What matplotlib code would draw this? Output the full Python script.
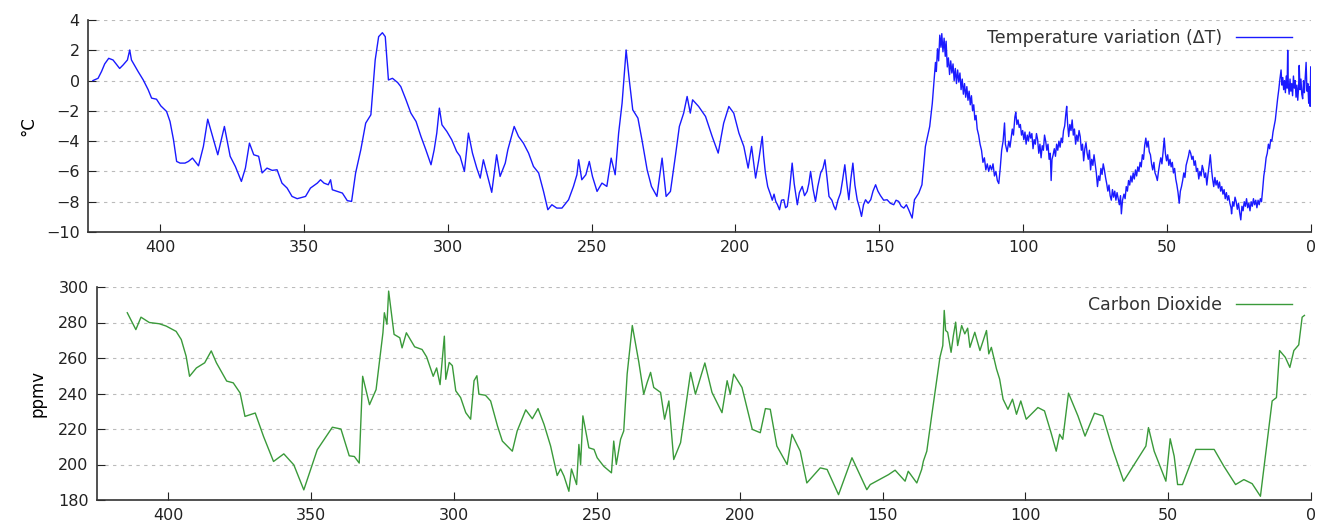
import matplotlib
matplotlib.use('Agg')
import matplotlib.pyplot as plt

plt.rcParams['font.family'] = ['DejaVu Sans']

# temperature variation (deg C), (thousands of years before present, value)
temp_points_old = [
    (423.3, 0.0), (421.5, 0.15), (420.3, 0.6), (419.2, 1.1), (417.8, 1.47), (416.3, 1.36),
    (414.0, 0.8), (412.8, 1.03), (411.3, 1.36), (410.5, 2.02), (409.9, 1.36), (407.6, 0.6),
    (405.8, 0.04), (404.1, -0.6), (402.9, -1.16), (401.2, -1.23), (399.7, -1.67), (397.7, -2.04),
    (396.5, -2.7), (395.3, -3.9), (394.2, -5.34), (393.0, -5.45), (391.3, -5.45), (390.1, -5.34),
    (388.7, -5.12), (386.6, -5.63), (384.9, -4.35), (383.4, -2.55), (381.7, -3.69), (379.9, -4.9),
    (377.6, -3.03), (375.6, -5.0), (373.8, -5.67), (371.7, -6.66), (370.3, -5.78), (368.9, -4.13),
    (367.4, -4.9), (365.7, -5.0), (364.5, -6.1), (362.8, -5.78), (361.0, -5.93), (359.3, -5.89),
    (357.6, -6.77), (355.8, -7.1), (354.1, -7.65), (352.3, -7.8), (349.4, -7.65), (347.7, -7.1),
    (345.3, -6.77), (344.2, -6.55), (343.0, -6.77), (341.5, -6.88), (340.7, -6.55), (340.1, -7.21),
    (338.4, -7.32), (336.6, -7.43), (334.9, -7.93), (333.4, -7.98), (332.0, -6.1), (330.2, -4.57),
    (328.5, -2.81), (326.7, -2.26), (325.2, 1.36), (324.0, 2.9), (322.7, 3.16), (321.7, 2.9),
    (320.6, 0.04), (319.2, 0.15), (317.4, -0.13), (316.3, -0.4), (314.5, -1.27), (312.8, -2.15),
    (311.0, -2.7), (309.3, -3.69), (307.6, -4.57), (305.8, -5.56), (304.7, -4.57), (303.8, -3.47),
    (302.9, -1.82), (302.0, -2.92), (300.3, -3.36), (298.6, -3.91), (296.9, -4.68), (295.7, -5.0),
    (294.2, -6.0), (292.8, -3.47), (291.4, -4.79), (289.9, -5.78), (288.7, -6.44), (287.6, -5.23),
    (285.8, -6.55), (284.7, -7.38), (283.0, -4.9), (281.8, -6.33), (280.0, -5.45), (279.1, -4.57),
    (276.9, -3.03), (275.4, -3.69), (273.7, -4.13), (271.9, -4.79), (270.2, -5.67), (268.4, -6.1),
    (266.7, -7.32), (265.2, -8.53), (263.8, -8.2), (262.1, -8.42), (260.3, -8.42), (258.0, -7.87),
    (256.3, -6.99), (255.1, -6.22), (254.5, -5.23), (253.4, -6.55), (252.0, -6.22), (250.8, -5.34),
    (249.7, -6.33), (248.1, -7.32), (246.4, -6.77), (244.7, -6.99), (243.2, -5.12), (241.8, -6.22),
    (240.6, -3.47), (239.4, -1.49), (238.0, 2.02), (236.9, 0.04), (235.7, -1.93), (233.9, -2.48),
    (232.5, -3.91), (230.7, -5.89), (229.2, -6.99), (227.3, -7.65), (225.5, -5.12), (224.1, -7.65),
    (222.6, -7.32), (220.9, -5.01), (219.5, -3.03), (218.0, -2.15), (216.8, -1.05), (215.7, -2.15),
    (214.9, -1.27), (212.8, -1.71), (210.4, -2.37), (208.1, -3.69), (206.0, -4.79), (204.1, -2.81),
    (202.3, -1.71), (200.6, -2.15), (198.8, -3.47), (197.1, -4.35), (195.6, -5.78), (194.4, -4.35),
    (193.0, -6.44), (191.9, -5.23),
]
temp_points_mid = [
    (190.7, -3.69), (190.2, -5.0), (189.6, -6.1), (188.8, -7.0), (187.8, -7.54), (187.2, -7.9),
    (186.6, -7.5), (186.0, -7.98), (185.4, -8.2), (184.7, -8.53), (184.0, -7.9), (183.2, -7.87),
    (182.6, -8.4), (182.0, -8.31), (181.2, -7.2), (180.3, -5.45), (179.6, -6.8), (178.5, -8.2),
    (177.8, -7.4), (176.8, -6.99), (176.0, -7.6), (175.1, -7.32), (174.5, -6.8), (173.9, -6.0),
    (173.0, -7.2), (172.2, -7.98), (171.4, -7.0), (170.4, -6.1), (169.6, -5.8), (168.9, -5.23),
    (168.2, -6.4), (167.5, -7.65), (166.5, -7.9), (165.8, -8.3), (165.2, -8.53), (164.4, -7.9),
    (163.5, -7.43), (162.8, -6.6), (162.0, -5.56), (161.3, -6.8), (160.6, -7.87), (159.9, -6.5),
    (159.2, -5.45), (158.5, -6.9), (157.7, -7.87), (156.9, -8.4), (156.2, -8.97), (155.5, -8.2),
    (154.8, -7.87), (153.9, -8.1), (153.0, -7.87), (152.2, -7.3), (151.3, -6.88), (150.5, -7.3),
    (149.6, -7.6), (148.5, -7.9), (147.3, -7.87), (146.2, -8.1), (145.0, -8.2), (144.2, -7.9),
    (143.3, -7.98), (142.4, -8.3), (141.5, -8.42), (140.6, -8.2), (139.8, -8.53), (139.2, -8.8),
    (138.6, -9.08), (137.8, -7.87), (136.3, -7.43), (135.2, -6.88), (134.0, -4.35), (132.5, -3.03),
    (131.6, -1.5),
]
temp_points_recent = [
    (131.0, 0.0), (130.5, 1.2), (130.2, 0.6), (129.8, 2.1), (129.4, 1.3), (129.0, 3.0),
    (128.6, 2.2), (128.3, 3.1), (127.9, 1.9), (127.5, 2.8), (127.1, 1.6), (126.8, 2.6),
    (126.4, 0.9), (126.0, 1.5), (125.6, 0.4), (125.2, 1.3), (124.8, 0.5), (124.4, 1.1),
    (124.0, 0.0), (123.6, 0.8), (123.2, -0.2), (122.8, 0.7), (122.4, -0.1), (122.0, 0.5),
    (121.6, -0.6), (121.2, 0.1), (120.8, -0.9), (120.4, -0.2), (120.0, -1.1), (119.6, -0.4),
    (119.2, -1.3), (118.8, -0.7), (118.4, -1.6), (118.0, -1.0), (117.6, -2.0), (117.2, -1.6),
    (116.8, -2.6), (116.4, -2.3), (116.0, -3.2), (115.5, -3.6), (115.0, -4.2), (114.5, -4.6),
    (114.0, -5.4), (113.5, -5.1), (113.0, -5.9), (112.5, -5.5), (112.0, -6.0), (111.5, -5.6),
    (111.0, -5.9), (110.5, -5.5), (110.0, -6.3), (109.5, -6.0), (109.0, -6.6), (108.5, -6.8),
    (108.0, -5.8), (107.5, -4.6), (107.0, -4.0), (106.5, -2.8), (106.2, -4.2), (105.6, -4.7),
    (105.0, -4.0), (104.6, -4.4), (104.2, -3.8), (103.8, -3.2), (103.4, -3.6), (102.9, -2.4),
    (102.6, -2.1), (102.2, -2.9), (101.8, -2.6), (101.4, -3.1), (101.0, -2.9), (100.6, -3.6),
    (100.2, -3.3), (99.8, -3.9), (99.4, -3.4), (99.0, -4.2), (98.6, -3.6), (98.2, -4.0),
    (97.8, -3.4), (97.4, -3.8), (97.0, -3.5), (96.6, -4.5), (96.2, -3.9), (95.8, -4.2),
    (95.4, -3.5), (95.0, -3.9), (94.6, -4.8), (94.2, -4.2), (93.8, -5.1), (93.4, -4.3),
    (93.0, -4.6), (92.6, -3.6), (92.2, -4.0), (91.8, -4.6), (91.4, -4.2), (91.0, -5.2),
    (90.6, -4.8), (90.3, -6.6), (90.0, -5.2), (89.6, -4.9), (89.2, -4.5), (88.8, -5.0),
    (88.4, -4.2), (88.0, -4.6), (87.6, -4.0), (87.2, -4.4), (86.8, -3.8), (86.4, -4.1),
    (86.0, -3.3), (85.6, -3.0), (85.2, -2.2), (84.9, -1.7), (84.6, -2.8), (84.2, -3.7),
    (83.8, -2.9), (83.4, -3.3), (83.0, -2.6), (82.6, -3.6), (82.2, -3.2), (81.8, -4.2),
    (81.4, -3.6), (81.0, -4.0), (80.6, -3.3), (80.2, -3.7), (79.8, -4.6), (79.4, -4.2),
    (79.0, -5.3), (78.6, -4.5), (78.2, -4.1), (77.8, -4.8), (77.4, -5.2), (77.0, -4.6),
    (76.6, -5.9), (76.2, -5.2), (75.8, -5.6), (75.4, -4.9), (75.0, -5.5), (74.6, -6.1),
    (74.2, -7.0), (73.8, -6.3), (73.4, -6.6), (73.0, -5.8), (72.6, -6.2), (72.2, -5.5),
    (71.8, -5.9), (71.4, -6.4), (71.0, -6.8), (70.6, -7.3), (70.2, -6.9), (69.8, -7.6),
    (69.4, -7.9), (69.0, -7.2), (68.6, -7.7), (68.2, -7.3), (67.8, -7.9), (67.4, -7.4),
    (67.0, -7.8), (66.6, -8.2), (66.2, -7.6), (65.9, -8.8), (65.5, -7.9), (65.0, -7.5),
    (64.6, -7.8), (64.2, -7.0), (63.8, -7.3), (63.4, -6.6), (63.0, -6.9), (62.6, -6.3),
    (62.2, -6.7), (61.8, -6.1), (61.4, -6.5), (61.0, -5.9), (60.6, -6.3), (60.2, -5.7),
    (59.8, -6.0), (59.4, -5.4), (59.0, -5.7), (58.6, -4.9), (58.2, -5.2), (57.8, -4.3),
    (57.4, -3.8), (57.0, -4.4), (56.6, -4.0), (56.2, -4.7), (55.8, -4.9), (55.4, -5.5),
    (55.0, -5.9), (54.6, -5.4), (54.2, -6.1), (53.8, -6.3), (53.4, -6.6), (53.0, -6.0),
    (52.6, -5.5), (52.2, -5.1), (51.8, -5.5), (51.4, -4.7), (51.0, -3.8), (50.6, -4.8),
    (50.2, -5.3), (49.8, -4.9), (49.4, -5.6), (49.0, -5.2), (48.6, -5.7), (48.2, -5.4),
    (47.8, -6.1), (47.4, -5.8), (47.0, -6.5), (46.6, -6.9), (46.2, -7.4), (45.8, -8.1),
    (45.4, -7.3), (45.0, -7.0), (44.6, -6.6), (44.2, -6.1), (43.8, -6.4), (43.4, -5.6),
    (43.0, -5.3), (42.6, -5.0), (42.2, -4.6), (41.8, -4.8), (41.4, -5.2), (41.0, -5.0),
    (40.6, -5.6), (40.2, -5.3), (39.8, -6.0), (39.4, -5.8), (39.0, -6.5), (38.6, -6.0),
    (38.2, -6.3), (37.8, -5.6), (37.4, -5.9), (37.0, -6.4), (36.6, -6.1), (36.2, -6.9),
    (35.8, -6.2), (35.4, -5.6), (35.0, -4.9), (34.6, -5.8), (34.2, -6.5), (33.8, -7.0),
    (33.4, -6.4), (33.0, -6.9), (32.6, -6.6), (32.2, -7.1), (31.8, -6.7), (31.4, -7.3),
    (31.0, -7.0), (30.6, -7.5), (30.2, -7.2), (29.8, -7.8), (29.4, -7.4), (29.0, -7.9),
    (28.6, -7.6), (28.2, -8.1), (27.8, -8.4), (27.6, -8.8), (27.2, -8.0), (26.8, -8.3),
    (26.4, -7.7), (26.0, -8.0), (25.6, -8.5), (25.2, -8.1), (24.8, -8.7), (24.4, -9.2),
    (24.0, -8.3), (23.6, -8.6), (23.2, -8.0), (22.8, -8.3), (22.4, -7.8), (22.0, -8.4),
    (21.6, -8.1), (21.2, -8.6), (20.8, -8.0), (20.4, -8.3), (20.0, -7.8), (19.6, -8.2),
    (19.2, -7.9), (18.8, -8.4), (18.4, -7.9), (18.0, -8.2), (17.6, -7.8), (17.2, -8.0),
    (16.8, -7.2), (16.4, -6.3), (16.0, -5.8), (15.6, -5.1), (15.2, -4.8), (14.8, -4.2),
    (14.4, -4.5), (14.0, -3.9), (13.6, -4.0), (13.2, -3.4), (12.8, -3.0), (12.4, -2.6),
    (12.0, -1.9), (11.6, -1.2), (11.2, -0.6), (10.8, 0.1), (10.4, 0.7), (10.1, -0.3),
    (9.8, 0.2), (9.5, -0.6), (9.2, 0.0), (8.9, -0.8), (8.6, 0.3), (8.3, -0.5),
    (8.1, 2.0), (7.9, -0.2), (7.6, -0.9), (7.3, 0.1), (7.0, -0.7), (6.7, -0.2),
    (6.4, -1.0), (6.1, 0.3), (5.8, -0.5), (5.5, 0.0), (5.2, -1.1), (4.9, -0.3),
    (4.6, -1.3), (4.3, -0.4), (4.1, 1.0), (3.8, -0.6), (3.5, 0.1), (3.2, -0.9),
    (2.9, -1.2), (2.6, 0.0), (2.3, -0.8), (2.0, 0.2), (1.7, 1.2), (1.4, -0.7),
    (1.1, -0.2), (0.8, -1.5), (0.5, -0.4), (0.3, -1.7), (0.1, 0.9),
]

# carbon dioxide (ppmv), (thousands of years before present, value)
co2_points = [
    (414.4, 285.5), (411.4, 276.0), (409.6, 283.0), (406.7, 280.0), (403.2, 279.3), (400.8, 278.0),
    (397.3, 275.0), (395.5, 270.4), (393.8, 261.0), (392.6, 249.7), (390.2, 254.4), (387.3, 257.3),
    (385.0, 264.0), (383.2, 257.3), (379.6, 247.0), (377.3, 246.0), (374.9, 240.3), (373.2, 227.1),
    (369.6, 229.0), (366.7, 215.8), (363.2, 201.7), (359.6, 206.0), (356.1, 199.8), (352.6, 185.7),
    (347.9, 208.3), (342.6, 221.0), (339.6, 220.0), (336.7, 204.9), (334.9, 204.5), (333.2, 200.8),
    (332.0, 249.7), (329.6, 233.7), (327.3, 242.2), (324.9, 274.2), (324.4, 285.5), (323.5, 279.0),
    (322.9, 297.7), (321.0, 273.3), (319.0, 271.4), (318.2, 265.7), (316.7, 274.2), (313.8, 266.3),
    (311.2, 264.8), (309.6, 260.6), (307.3, 249.7), (306.1, 254.4), (304.9, 245.0), (303.4, 272.3),
    (302.9, 248.0), (301.7, 257.5), (300.6, 255.7), (299.4, 241.5), (297.7, 237.7), (295.9, 229.2),
    (294.2, 225.5), (293.0, 247.2), (292.0, 250.0), (291.3, 239.6), (289.0, 239.0), (287.2, 235.8),
    (284.8, 221.7), (283.1, 213.2), (279.6, 207.5), (277.9, 218.9), (274.9, 230.8), (272.6, 225.8),
    (270.6, 231.5), (268.5, 222.6), (266.2, 210.4), (263.9, 193.8), (262.7, 197.5), (261.5, 193.4),
    (259.8, 184.9), (258.9, 197.5), (257.1, 188.7), (256.3, 211.3), (255.7, 200.0), (254.9, 227.4),
    (252.8, 209.4), (251.0, 208.5), (249.9, 203.8), (247.6, 199.0), (244.9, 195.3), (244.1, 213.2),
    (243.2, 200.0), (241.7, 214.2), (240.6, 218.9), (239.4, 251.0), (237.6, 278.3), (235.3, 257.5),
    (233.6, 239.6), (232.4, 246.2), (231.2, 251.9), (230.1, 243.4), (227.7, 240.6), (226.3, 225.5),
    (224.8, 235.8), (223.1, 202.8), (220.7, 212.3), (217.2, 251.9), (215.5, 239.6), (212.2, 257.2),
    (209.7, 240.6), (206.2, 229.2), (204.4, 247.2), (203.3, 239.6), (202.1, 250.9), (199.2, 243.4),
    (195.6, 219.8), (192.8, 217.9), (191.0, 231.5), (189.3, 231.1), (187.0, 210.4), (183.4, 200.0),
    (181.7, 217.0), (178.8, 207.5), (176.5, 189.6), (171.8, 198.1), (169.4, 197.2), (165.4, 183.0),
    (160.7, 203.8), (155.5, 185.8), (154.3, 188.7), (147.9, 194.3), (145.6, 196.8), (142.1, 190.6),
    (141.0, 196.2), (138.0, 189.6), (136.3, 197.2), (135.7, 201.9), (134.5, 207.5), (132.8, 227.4),
    (129.9, 260.4), (128.9, 267.0), (128.4, 286.8), (127.9, 275.5), (127.2, 274.5), (126.0, 263.2),
    (125.2, 272.6), (124.4, 280.2), (123.7, 267.0), (122.3, 278.3), (121.2, 273.6), (120.2, 276.8),
    (119.4, 266.0), (117.7, 274.5), (115.9, 264.2), (113.6, 275.5), (112.8, 262.3), (111.9, 266.0),
    (110.1, 253.8), (109.0, 248.1), (107.8, 236.8), (106.1, 231.1), (104.5, 236.8), (103.1, 228.3),
    (101.6, 235.8), (99.7, 225.5), (95.6, 232.1), (93.3, 230.2), (91.0, 217.9), (89.2, 207.5),
    (88.0, 217.0), (86.9, 214.2), (84.9, 240.2), (81.6, 227.4), (79.1, 216.0), (75.8, 228.9),
    (72.9, 227.4), (69.4, 208.5), (65.6, 190.6), (57.8, 210.4), (56.9, 220.8), (54.9, 207.5),
    (50.8, 190.6), (49.3, 214.5), (47.9, 204.7), (46.7, 188.7), (45.0, 188.7), (40.3, 208.5),
    (33.9, 208.5), (30.5, 199.0), (26.4, 188.7), (23.5, 191.5), (20.6, 189.2), (17.7, 182.1),
    (13.6, 235.8), (12.1, 237.7), (11.0, 264.2), (9.0, 260.4), (7.4, 254.7), (6.0, 264.2),
    (4.3, 267.4), (3.1, 283.0), (2.3, 284.0),
]

temp_ticks = [4, 2, 0, -2, -4, -6, -8, -10]
co2_ticks = [300, 280, 260, 240, 220, 200, 180]
age_ticks = [400, 350, 300, 250, 200, 150, 100, 50, 0]

temp_points = temp_points_old + temp_points_mid + temp_points_recent
temp_age = [p[0] for p in temp_points]
temp_val = [p[1] for p in temp_points]
co2_age = [p[0] for p in co2_points]
co2_val = [p[1] for p in co2_points]


def style_axis(ax):
    for side in ['top', 'right']:
        ax.spines[side].set_visible(False)
    for side in ['left', 'bottom']:
        ax.spines[side].set_color('#333333')
        ax.spines[side].set_linewidth(1.2)
    ax.yaxis.grid(True, linestyle=(0, (3, 4)), color='#bbbbbb', linewidth=0.8)
    ax.set_axisbelow(True)
    ax.tick_params(direction='in', length=6, labelsize=11.5, colors='#222222', pad=6)
    ax.set_xlim(425, 0)
    ax.set_xticks(age_ticks)


fig = plt.figure(figsize=(13.25, 5.28), dpi=100)
ax1 = fig.add_axes([88 / 1325, 1 - 232 / 528, (1311 - 88) / 1325, 212 / 528])
ax2 = fig.add_axes([97 / 1325, 1 - 500 / 528, (1311 - 97) / 1325, 213 / 528])

ax1.plot(temp_age, temp_val, color='#1a1aff', linewidth=1.0, label='Temperature variation (ΔT)')
ax1.set_ylim(-10, 4)
ax1.set_yticks(temp_ticks)
ax1.set_ylabel('°C', fontsize=12, labelpad=6)
style_axis(ax1)

ax2.plot(co2_age, co2_val, color='#3a9a3a', linewidth=1.0, label='Carbon Dioxide')
ax2.set_ylim(180, 300)
ax2.set_yticks(co2_ticks)
ax2.set_ylabel('ppmv', fontsize=12, labelpad=8)
style_axis(ax2)

for ax in (ax1, ax2):
    ax.legend(loc='upper right', bbox_to_anchor=(0.997, 1.03), frameon=False, markerfirst=False,
              handlelength=3.2, fontsize=12.5, labelcolor='#333333')

fig.savefig('out.png', dpi=100)
